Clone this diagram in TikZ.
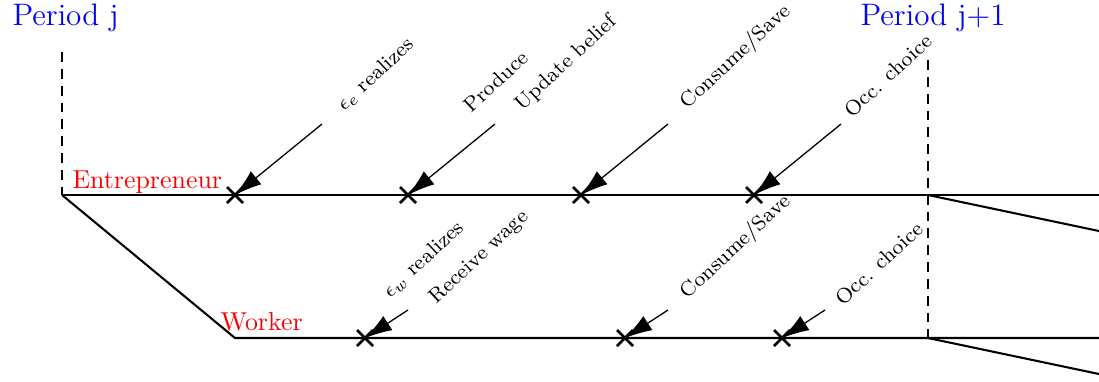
\documentclass[tikz,border=0pt]{standalone}
\usetikzlibrary{arrows.meta}
\begin{document}
\begin{tikzpicture}[x=0.386pt,y=-0.386pt,
  timeline/.style={line width=0.8pt},
  period/.style={dash pattern=on 3.8pt off 2.7pt,line width=0.9pt},
  periodlabel/.style={text=blue,font=\large,inner sep=0pt,anchor=base west},
  agentlabel/.style={text=red,inner sep=0pt,anchor=base west},
  eventlabel/.style={font=\footnotesize,inner sep=0pt,anchor=base west,rotate=43},
  pointer/.style={line width=0.5pt,-{Latex[length=10.5pt,width=6.5pt]}},
  tick/.style={line width=1pt}]
\useasboundingbox (0,0) rectangle (1099,381);

% period boundaries
\node[periodlabel] (pj) at (12,25) {Period j};
\node[periodlabel] (pj1) at (860,25) {Period j+1};
\coordinate (pjtop) at (62,52);
\coordinate (pj1top) at (928,60);

% branching points
\coordinate (root) at (62,195);
\coordinate (wstart) at (235,338);
\coordinate (enext) at (928,195);
\coordinate (wnext) at (928,338);
\coordinate (eend) at (1099,195);
\coordinate (wend) at (1099,338);
\coordinate (esplit) at (1099,231);
\coordinate (wsplit) at (1099,374);

\draw[period] (pjtop) -- (root);
\draw[period] (pj1top) -- (wnext);

\draw[timeline] (root) -- (eend);
\draw[timeline] (root) -- (wstart) -- (wend);
\draw[timeline] (enext) -- (esplit);
\draw[timeline] (wnext) -- (wsplit);

\node[agentlabel] (ent) at (72,188) {Entrepreneur};
\node[agentlabel] (wrk) at (220,330) {Worker};

% events on the entrepreneur line
\foreach \n/\x in {1/235,2/408,3/581,4/754}{
  \coordinate (e\n) at (\x,195);
  \coordinate (es\n) at (\x+87,124);
  \draw[tick] ([shift={(-8,-8)}]e\n) -- ([shift={(8,8)}]e\n)
              ([shift={(-8,8)}]e\n) -- ([shift={(8,-8)}]e\n);
  \draw[pointer] (es\n) -- (e\n);
}
% events on the worker line
\foreach \n/\x in {1/365,2/625,3/782}{
  \coordinate (w\n) at (\x,338);
  \coordinate (ws\n) at (\x+43,310);
  \draw[tick] ([shift={(-8,-8)}]w\n) -- ([shift={(8,8)}]w\n)
              ([shift={(-8,8)}]w\n) -- ([shift={(8,-8)}]w\n);
  \draw[pointer] (ws\n) -- (w\n);
}

\node[eventlabel] (le1) at (344,112) {$\epsilon_e$ realizes};
\node[eventlabel] (le2a) at (471,114) {Produce};
\node[eventlabel] (le2b) at (522,112) {Update belief};
\node[eventlabel] (le3) at (687,110) {Consume/Save};
\node[eventlabel] (le4) at (852,119) {Occ. choice};

\node[eventlabel] (lw1) at (390,299) {$\epsilon_w$ realizes};
\node[eventlabel] (lw1b) at (436,305) {Receive wage};
\node[eventlabel] (lw2) at (687,300) {Consume/Save};
\node[eventlabel] (lw3) at (843,307) {Occ. choice};
\end{tikzpicture}
\end{document}
